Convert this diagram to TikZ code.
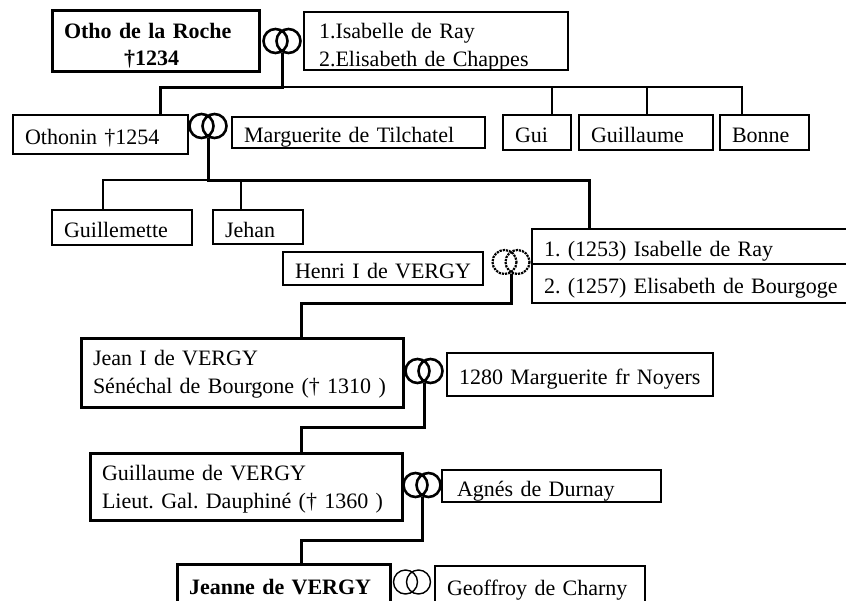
\documentclass[tikz,border=0pt]{standalone}
\usepackage{fontspec}
\setmainfont{Liberation Serif}
\tikzset{boxsize/.code 2 args={\pgfmathsetmacro\boxtw{#1-24}\edef\boxkeys{\noexpand\pgfkeysalso{minimum width=#1pt, minimum height=#2pt, text width=\boxtw pt}}\boxkeys}}
\begin{document}
\begin{tikzpicture}[x=1pt,y=-1pt,
		frame/.style={draw, line width=1.5pt, anchor=north west, inner sep=0pt, inner xsep=12pt, outer sep=0pt, align=left, font=\fontsize{22}{28}\selectfont\frenchspacing},
		box/.style={frame, text height=20pt, text depth=0pt},
		twoline/.style={text height=15pt, text depth=#1},
		heir/.style={frame, line width=3pt},
		named/.style={line width=3pt, font=\fontsize{22}{27}\selectfont\bfseries\frenchspacing},
		family/.style={line width=3pt},
		kin/.style={line width=1.6pt},
		ring/.style={line width=2.6pt},
		thin ring/.style={line width=1.4pt},
		dot ring/.style={line width=2.2pt, densely dotted}]
			\useasboundingbox (0,0) rectangle (846,600);
			\node (otho) [frame, named, twoline=20pt, boxsize={207}{61}] at (52,10) {Otho de la Roche\\\hspace*{60pt}†1234};
			\node (wives) [frame, twoline=21pt, boxsize={258}{58}, inner xsep=15pt] at (304,12) {1.Isabelle de Ray\\2.Elisabeth de Chappes};
			\node (othonin) [box, line width=2.4pt, boxsize={175}{39}] at (13,115) {Othonin †1254};
			\node (marguerite) [box, boxsize={253}{31}] at (232,117) {Marguerite de Tilchatel};
			\node (gui) [box, boxsize={68}{35}] at (503,115) {Gui};
			\node (guillaume) [box, boxsize={134}{35}] at (579,115) {Guillaume};
			\node (bonne) [box, boxsize={89}{35}] at (720,115) {Bonne};
			\node (guillemette) [box, boxsize={140}{35}] at (52,210) {Guillemette};
			\node (jehan) [box, boxsize={90}{34}] at (213,210) {Jehan};
			\node (henri) [box, boxsize={200}{33}] at (283,252) {Henri I de VERGY};
			\node (isabelle) [box, line width=2pt, boxsize={320}{35}] at (532,229) {1. (1253) Isabelle de Ray};
			\node (elisabeth) [box, line width=2pt, boxsize={320}{39}] at (532,264) {2. (1257) Elisabeth de Bourgoge};
			\node (jean) [heir, twoline=30pt, boxsize={322}{69}] at (81,338) {Jean I de VERGY\\Sénéchal de Bourgone († 1310 )};
			\node (noyers) [box, boxsize={266}{43}] at (447,353) {1280 Marguerite fr Noyers};
			\node (guillaumev) [heir, twoline=28pt, boxsize={312}{67}] at (90,453) {Guillaume de VERGY\\Lieut. Gal. Dauphiné († 1360 )};
			\node (agnes) [box, boxsize={213}{32}, inner xsep=15pt] at (442,470) {Agnés de Durnay};
			\node (jeanne) [box, named, boxsize={213}{40}] at (177,564) {Jeanne de VERGY};
			\node (geoffroy) [box, boxsize={210}{38}] at (435,566) {Geoffroy de Charny};
			%
			\foreach \n/\x/\y/\s in {otho-ring/282/41/ring, othonin-ring/208/126/ring, henri-ring/511/262/dot ring, jean-ring/424/371/ring, guillaume-ring/422/485/ring, jeanne-ring/412/582/thin ring}{
					\draw[\s] (\x-6.5,\y) circle (12) (\x+6.5,\y) circle (12);
					\node (\n) [circle, inner sep=0pt, minimum size=24pt] at (\x,\y) {};
				}
			%
			\draw[family] (otho-ring.south) |- (160,87) -- (othonin.north -| 160,0);
			\foreach \n/\x in {gui/552, guillaume/647, bonne/742}
				\draw[kin] (otho-ring.south |- 0,87) -| (\n.north -| \x,0);
			\draw[family] (othonin-ring.south) |- (589,180) -- (isabelle.north -| 589,0);
			\foreach \n/\x in {guillemette/103, jehan/241}
				\draw[kin] (othonin-ring.south |- 0,180) -| (\n.north -| \x,0);
			\draw[family] (henri-ring.south) |- (301,303) -- (jean.north -| 301,0);
			\draw[family] (jean-ring.south) |- (301,427) -- (guillaumev.north -| 301,0);
			\draw[family] (guillaume-ring.south) |- (301,540) -- (jeanne.north -| 301,0);
		\end{tikzpicture}
\end{document}
